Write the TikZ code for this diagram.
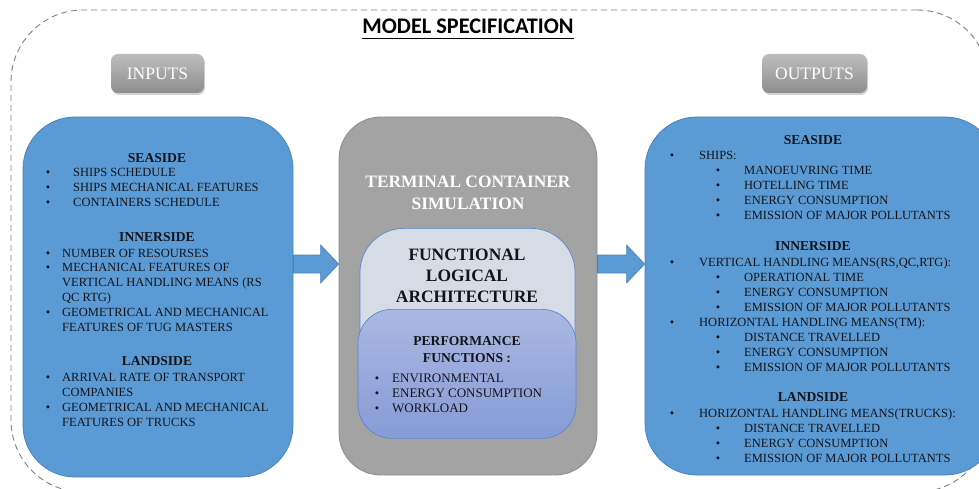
\documentclass[tikz,border=0pt]{standalone}
\usepackage{fontspec}
\setmainfont{Liberation Serif}
\newfontfamily\headfont{Carlito}
\usetikzlibrary{calc,shadows}

\definecolor{boxblue}{HTML}{5B9BD5}
\definecolor{boxline}{HTML}{4A82BB}
\definecolor{simgray}{HTML}{A3A3A3}
\definecolor{simline}{HTML}{8C8C8C}
\definecolor{archfill}{HTML}{D6DCE5}
\definecolor{archline}{HTML}{5A86CF}
\definecolor{perftop}{HTML}{AAB9E2}
\definecolor{perfbot}{HTML}{869BD6}
\definecolor{btntop}{HTML}{BDBDBD}
\definecolor{btnbot}{HTML}{8E8E8E}
\definecolor{inktext}{HTML}{141418}
\definecolor{framegray}{HTML}{7F7F7F}

\tikzset{
  frame/.style={draw=framegray, dashed, dash pattern=on 6pt off 4pt, line width=0.9pt, rounded corners=72pt},
  bigbox/.style={fill=boxblue, draw=boxline, line width=0.8pt, rounded corners=52pt},
  simbox/.style={fill=simgray, draw=simline, line width=0.8pt, rounded corners=42pt},
  archbox/.style={fill=archfill, draw=archline, line width=0.7pt, rounded corners=44pt},
  perfbox/.style={top color=perftop, bottom color=perfbot, draw=archline, line width=0.7pt, rounded corners=34pt},
  button/.style={top color=btntop, bottom color=btnbot, rounded corners=7pt,
     drop shadow={opacity=0.35, shadow xshift=1pt, shadow yshift=-2pt},
     text=white, font=\fontsize{17.5}{20}\selectfont, inner sep=0pt},
  blockarrow/.style={fill=boxblue, draw=boxline, line width=0.7pt},
  item/.style={font=\fontsize{12.5}{14}\selectfont, text=inktext, inner sep=0pt, anchor=base west},
  dot/.style={font=\fontsize{12.5}{14}\selectfont, text=inktext, inner sep=0pt, anchor=base},
  head/.style={font=\bfseries\fontsize{13.6}{15}\selectfont, text=inktext, inner sep=0pt, anchor=base},
  pitem/.style={font=\fontsize{13}{15}\selectfont, text=inktext, inner sep=0pt, anchor=base west},
}

% block arrow from the east side of #1 to the west side of #2, centred at height #3
\newcommand\linkarrow[3]{%
  \draw[blockarrow]
    ($(#1.east|-0,#3)+(0,-9)$) -- ($(#2.west|-0,#3)+(-18,-9)$)
    -- ($(#2.west|-0,#3)+(-18,-19)$) -- (#2.west|-0,#3)
    -- ($(#2.west|-0,#3)+(-18,19)$) -- ($(#2.west|-0,#3)+(-18,9)$)
    -- ($(#1.east|-0,#3)+(0,9)$) -- cycle;}

\begin{document}
\begin{tikzpicture}[x=1pt,y=-1pt]
\clip (0,0) rectangle (979,489);

% outer dashed frame
\node[frame, minimum width=978pt, minimum height=482pt] (frame) at (500,251) {};

% title
\node[font=\headfont\bfseries\fontsize{22.3}{25}\selectfont, inner sep=0pt, anchor=base] (title) at (468,34) {MODEL SPECIFICATION};
\draw[line width=1.8pt] ($(title.base west)+(0,4.5)$) -- ($(title.base east)+(0,4.5)$);

% buttons
\node[button, minimum width=93pt, minimum height=39pt] (inputs) at (157.5,73.5) {INPUTS};
\node[button, minimum width=105pt, minimum height=39pt] (outputs) at (814.5,73.5) {OUTPUTS};

% main boxes
\node[bigbox, minimum width=270pt, minimum height=360pt] (inbox) at (158,297) {};
\node[simbox, minimum width=258pt, minimum height=358pt] (sim) at (468,296) {};
\node[bigbox, minimum width=352pt, minimum height=358pt] (outbox) at (821,296) {};

% arrows
\linkarrow{inbox}{sim}{264}
\linkarrow{sim}{outbox}{264}

% simulation block
\node[font=\bfseries\fontsize{17.4}{20}\selectfont, text=white, inner sep=0pt, anchor=base] (simt1) at (468,188) {TERMINAL CONTAINER};
\node[font=\bfseries\fontsize{17.4}{20}\selectfont, text=white, inner sep=0pt, anchor=base] (simt2) at (468,209) {SIMULATION};

\node[archbox, minimum width=215pt, minimum height=190pt, anchor=north] (arch) at (467.5,228) {};
\foreach \n/\y/\t in {a1/260.5/FUNCTIONAL, a2/281.5/LOGICAL, a3/302.5/ARCHITECTURE}
  \node[font=\bfseries\fontsize{17.4}{20}\selectfont, text=inktext, inner sep=0pt, anchor=base] (arch-\n) at (467,\y) {\t};

\node[perfbox, minimum width=218pt, minimum height=129pt, anchor=north] (perf) at (467,309) {};
\node[head] (perf-h1) at (467,345) {PERFORMANCE};
\node[head] (perf-h2) at (467,362) {FUNCTIONS :};
\foreach \n/\y/\t in {p1/382.5/ENVIRONMENTAL, p2/397.5/ENERGY CONSUMPTION, p3/412.5/WORKLOAD}{
  \node[dot] (perf-b\n) at (377,\y) {\textbullet};
  \node[pitem] (perf-\n) at (392,\y) {\t};
}

% inputs
\node[head] (in-sea) at (157,163) {SEASIDE};
\node[head] (in-inner) at (157,241.5) {INNERSIDE};
\node[head] (in-land) at (157,365) {LANDSIDE};
\foreach \n/\y/\x/\t in {
  s1/177/73/SHIPS SCHEDULE,
  s2/192/73/SHIPS MECHANICAL FEATURES,
  s3/207/73/CONTAINERS SCHEDULE,
  i1/257/62/NUMBER OF RESOURSES,
  i2/271.5/62/MECHANICAL FEATURES OF,
  i3/286.5/62/VERTICAL HANDLING MEANS (RS,
  i4/301.5/62/QC RTG),
  i5/316.5/62/GEOMETRICAL AND MECHANICAL,
  i6/331.5/62/FEATURES OF TUG MASTERS,
  l1/381/62/ARRIVAL RATE OF TRANSPORT,
  l2/396/62/COMPANIES,
  l3/411/62/GEOMETRICAL AND MECHANICAL,
  l4/426/62/FEATURES OF TRUCKS}
  \node[item] (in-\n) at (\x,\y) {\t};
\foreach \n/\y in {s1/177, s2/192, s3/207, i1/257, i2/271.5, i5/316.5, l1/381, l3/411}
  \node[dot] (in-b\n) at (48,\y) {\textbullet};

% outputs
\node[head] (out-sea) at (813,144.5) {SEASIDE};
\node[head] (out-inner) at (813,250) {INNERSIDE};
\node[head] (out-land) at (813,401) {LANDSIDE};
\foreach \n/\y/\t in {
  s0/159.5/SHIPS:,
  i0/266/{VERTICAL HANDLING MEANS(RS,QC,RTG):},
  h0/326/HORIZONTAL HANDLING MEANS(TM):,
  l0/417.5/HORIZONTAL HANDLING MEANS(TRUCKS):}{
  \node[dot] (out-b\n) at (672,\y) {\textbullet};
  \node[item] (out-\n) at (699,\y) {\t};
}
\foreach \n/\y/\t in {
  s1/174.5/MANOEUVRING TIME,
  s2/189.5/HOTELLING TIME,
  s3/204.5/ENERGY CONSUMPTION,
  s4/219.5/EMISSION OF MAJOR POLLUTANTS,
  i1/281/OPERATIONAL TIME,
  i2/296/ENERGY CONSUMPTION,
  i3/311/EMISSION OF MAJOR POLLUTANTS,
  h1/341/DISTANCE TRAVELLED,
  h2/356/ENERGY CONSUMPTION,
  h3/371/EMISSION OF MAJOR POLLUTANTS,
  l1/432/DISTANCE TRAVELLED,
  l2/447/ENERGY CONSUMPTION,
  l3/462/EMISSION OF MAJOR POLLUTANTS}{
  \node[dot] (out-b\n) at (718,\y) {\textbullet};
  \node[item] (out-\n) at (744,\y) {\t};
}
\end{tikzpicture}
\end{document}
